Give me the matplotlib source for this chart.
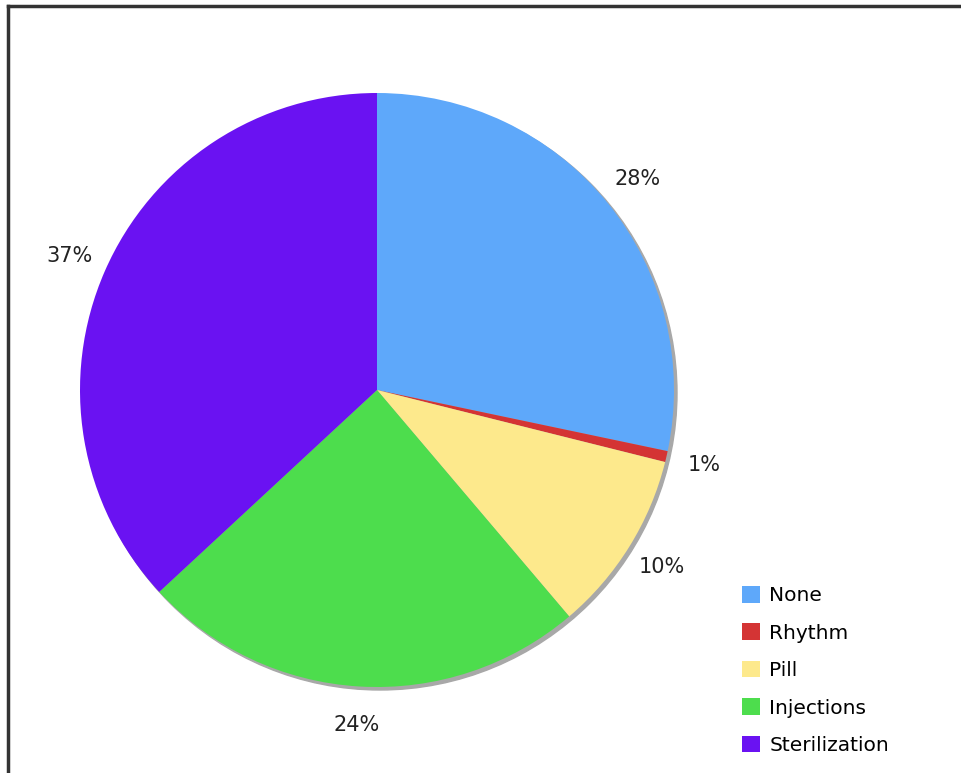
import numpy as np
import matplotlib.pyplot as plt
from matplotlib.patches import Circle, Patch
from matplotlib.lines import Line2D

labels = ['None', 'Rhythm', 'Pill', 'Injections', 'Sterilization']
values = [28.3, 0.6, 9.9, 24.3, 36.9]
colors = ['#5ea8fa', '#d43434', '#fde98c', '#4ddd4d', '#6a12f2']

W, H = 961, 773
fig = plt.figure(figsize=(W / 100, H / 100), dpi=100)
ax = fig.add_axes([0, 0, 1, 1])

cx, cy, r = 377, H - 390, 297

# soft shadow under the pie
ax.add_patch(Circle((cx + 3, cy - 3), r, color='#a8a8a8', zorder=0))

wedges, texts, autotexts = ax.pie(
    values, colors=colors, startangle=90, counterclock=False,
    center=(cx, cy), radius=r, frame=True,
    autopct=lambda p: '%d%%' % round(p), pctdistance=1.13,
    wedgeprops=dict(linewidth=0),
    textprops=dict(fontsize=15, color='#222222'))
ax.set_xlim(0, W)
ax.set_ylim(0, H)
ax.set_aspect('equal')
ax.axis('off')

handles = [Patch(facecolor=c, edgecolor='none') for c in colors]
leg = fig.legend(handles, labels, loc='lower left', bbox_to_anchor=(732 / W, 8 / H),
                 frameon=False, fontsize=14.5, handlelength=0.9, handleheight=0.9,
                 handletextpad=0.45, labelspacing=0.9, borderpad=0)

# frame lines (top and left only)
fig.add_artist(Line2D([8 / W, 1], [1 - 6 / H, 1 - 6 / H], color='#333333', lw=2.5))
fig.add_artist(Line2D([8 / W, 8 / W], [0, 1 - 6 / H], color='#333333', lw=2.5))

fig.savefig('out.png', dpi=100)
